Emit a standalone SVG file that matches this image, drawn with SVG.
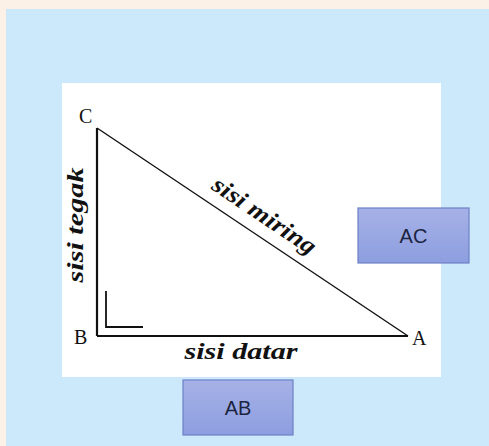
<svg xmlns="http://www.w3.org/2000/svg" width="489" height="446" viewBox="0 0 489 446">
<defs>
<linearGradient id="bx" x1="0" y1="0" x2="0" y2="1">
<stop offset="0" stop-color="#a6b1e6"/>
<stop offset="1" stop-color="#8d9ee0"/>
</linearGradient>
<style>
.lbl{font-family:"Liberation Serif",serif;font-size:20px;fill:#111}
.side{font-family:"Liberation Serif",serif;font-size:24px;font-weight:bold;font-style:italic;fill:#111}
.box{fill:url(#bx);stroke:#6d80c6;stroke-width:1.2}
.btxt{font-family:"Liberation Sans",sans-serif;font-size:20px;fill:#1b2440;text-anchor:middle}
.edge{stroke:#111;fill:none}
</style>
</defs>
<rect width="489" height="446" fill="#fbf1e6"/>
<rect x="6" y="9" width="483" height="437" fill="#cce9fb"/>
<rect x="62" y="83" width="379" height="294" fill="#ffffff"/>
<g id="connectors">
<line class="edge" x1="97" y1="128" x2="97" y2="336" stroke-width="2.2"/>
<line class="edge" x1="97" y1="336" x2="408" y2="336" stroke-width="2.2"/>
<line class="edge" x1="97" y1="128" x2="408" y2="336" stroke-width="1.4"/>
<polyline class="edge" points="106,291 106,327 143,327" stroke-width="1.8"/>
</g>
<g id="C"><text class="lbl" x="79" y="123">C</text></g>
<g id="B"><text class="lbl" x="74" y="344">B</text></g>
<g id="A"><text class="lbl" x="412" y="345">A</text></g>
<g id="sisi-tegak"><text class="side" text-anchor="middle" textLength="115" lengthAdjust="spacingAndGlyphs" transform="translate(83,225) rotate(-90)">sisi tegak</text></g>
<g id="sisi-miring"><text class="side" text-anchor="middle" textLength="120" lengthAdjust="spacingAndGlyphs" transform="translate(260,222) rotate(33.8)">sisi miring</text></g>
<g id="sisi-datar"><text class="side" text-anchor="middle" textLength="113" lengthAdjust="spacingAndGlyphs" x="241" y="359">sisi datar</text></g>
<g id="AC"><rect class="box" x="358" y="208" width="111" height="55"/><text class="btxt" x="413.5" y="243">AC</text></g>
<g id="AB"><rect class="box" x="183" y="380" width="110" height="55"/><text class="btxt" x="238" y="415">AB</text></g>
</svg>
